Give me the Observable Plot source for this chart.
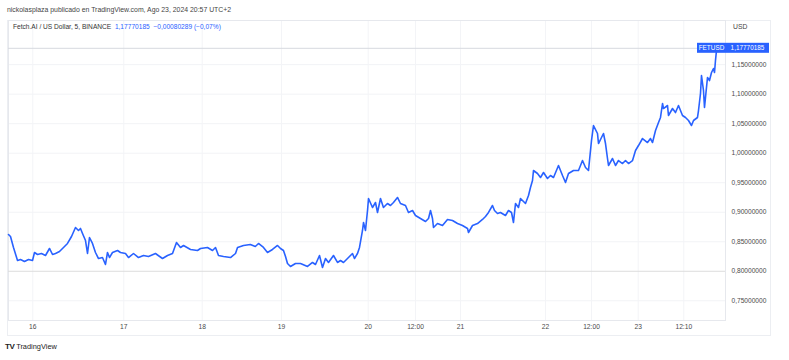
<!DOCTYPE html>
<html><head><meta charset="utf-8">
<script src="https://cdn.jsdelivr.net/npm/d3@7"></script>
<script src="https://cdn.jsdelivr.net/npm/@observablehq/plot@0.6"></script>
<style>
body{margin:0;background:#fff;font-family:"Liberation Sans",Arial,sans-serif;}
#wrap{position:relative;width:789px;height:360px;overflow:hidden;background:#fff}
.abs{position:absolute;white-space:nowrap;line-height:1}
</style></head><body>
<div id="wrap">
<div class="abs" style="left:7px;top:20px;width:764px;height:316px;border:1px solid #eceef2;box-sizing:border-box"></div>
<div id="chart" class="abs" style="left:0;top:0"></div>
<div class="abs" style="left:7px;top:7px;font-size:6.9px;color:#444">nickolasplaza publicado en TradingView.com, Ago 23, 2024 20:57 UTC+2</div>
<div class="abs" style="left:13px;top:23.5px;font-size:6.6px;color:#333">Fetch.AI / US Dollar, 5, BINANCE&nbsp;&nbsp;<span style="color:#2962ff">1,17770185&nbsp;&nbsp;−0,00080289 (−0,07%)</span></div>
<div class="abs" style="left:733px;top:23.5px;font-size:6.8px;color:#444">USD</div>
<div class="abs" style="left:5px;top:343px;font-size:7.4px;color:#222"><b style="font-weight:900;letter-spacing:-0.5px;font-size:8px">TV</b> TradingView</div>
</div>
<script>
// Hours since 2024-08-16 00:00 (local chart time) and FET/USD price
const hours = [-6.41,-5.88,-5.09,-4.03,-3.24,-2.19,-1.13,-0.08,0.45,1.24,2.29,3.35,4.40,5.20,5.99,7.04,8.10,9.15,10.21,11.26,12.05,12.58,13.11,13.90,14.43,14.95,15.74,16.53,17.33,18.38,19.17,19.70,20.23,21.02,22.34,23.13,
24.52,25.44,26.97,28.50,30.03,31.56,33.70,35.85,37.38,38.91,40.13,41.36,42.28,44.42,46.56,47.48,
49.60,51.12,52.03,52.93,54.45,56.57,58.08,58.69,60.50,62.57,64.08,65.04,66.55,67.76,69.27,70.79,71.70,
72.55,73.11,73.66,74.49,75.87,77.26,79.20,80.58,81.41,82.52,83.35,84.18,85.01,86.39,87.50,88.33,89.16,90.27,91.65,92.20,93.04,93.59,94.42,94.70,95.25,95.81,
96.08,97.09,97.85,98.36,99.12,99.87,100.89,101.65,102.41,103.43,104.19,105.46,106.22,107.24,
108.00,109.33,110.67,111.47,112.00,112.53,112.80,113.87,115.20,116.53,117.87,119.20,
120.56,121.98,122.26,123.39,124.80,126.21,127.06,127.91,129.03,129.60,130.45,131.29,132.70,133.55,134.40,134.96,135.53,136.37,136.94,137.50,138.35,139.20,139.76,140.33,140.61,141.74,142.59,143.44,
144.52,145.30,146.09,147.39,148.44,149.22,150.00,151.30,152.61,153.65,154.44,155.22,
156.00,156.51,157.54,157.80,158.57,159.08,159.60,160.11,160.37,161.40,162.17,162.94,163.97,164.74,165.51,166.54,167.31,
168.08,169.15,170.48,171.28,171.82,172.62,173.42,173.95,174.49,174.75,175.82,176.08,177.15,177.95,178.75,179.82,180.62,181.42,182.22,182.76,183.82,184.09,184.62,184.89,185.42,185.69,186.22,186.49,187.02,187.56,188.09,188.36,188.62,188.95];
const prices = [0.8623,0.8589,0.8403,0.8182,0.8199,0.8165,0.8199,0.8182,0.8318,0.8284,0.8301,0.8267,0.8386,0.8284,0.8301,0.8335,0.8403,0.8471,0.8589,0.8742,0.8691,0.8725,0.8640,0.8521,0.8301,0.8572,0.8471,0.8318,0.8216,0.8233,0.8115,0.8318,0.8233,0.8318,0.8352,0.8318,
0.8301,0.8233,0.8301,0.8233,0.8267,0.8250,0.8301,0.8216,0.8267,0.8301,0.8488,0.8403,0.8437,0.8369,0.8352,0.8386,
0.8403,0.8352,0.8403,0.8267,0.8250,0.8233,0.8301,0.8403,0.8437,0.8454,0.8420,0.8471,0.8403,0.8318,0.8369,0.8437,0.8386,
0.8352,0.8250,0.8132,0.8081,0.8132,0.8132,0.8081,0.8149,0.8115,0.8267,0.8064,0.8216,0.8149,0.8267,0.8149,0.8182,0.8149,0.8216,0.8301,0.8216,0.8301,0.8403,0.8691,0.8826,0.8691,0.9029,
0.9233,0.9080,0.9165,0.8996,0.9233,0.9080,0.9148,0.9114,0.9165,0.9250,0.9148,0.9114,0.8996,0.9029,
0.8945,0.8894,0.8843,0.8894,0.9029,0.8894,0.8742,0.8809,0.8775,0.8877,0.8860,0.8809,
0.8775,0.8725,0.8657,0.8775,0.8809,0.8877,0.8928,0.8996,0.9114,0.9029,0.8979,0.8996,0.8945,0.9029,0.8996,0.8826,0.9148,0.9080,0.9233,0.9199,0.9148,0.9284,0.9419,0.9538,0.9707,0.9656,0.9588,0.9673,
0.9571,0.9622,0.9588,0.9792,0.9622,0.9504,0.9656,0.9707,0.9707,0.9876,0.9758,0.9707,
1.0215,1.0469,1.0334,1.0164,1.0266,1.0334,1.0164,0.9910,0.9792,0.9910,0.9792,0.9876,0.9825,0.9876,0.9825,0.9876,1.0046,
1.0130,1.0249,1.0181,1.0249,1.0181,1.0385,1.0520,1.0605,1.0842,1.0757,1.0808,1.0639,1.0757,1.0689,1.0808,1.0639,1.0605,1.0554,1.0469,1.0554,1.0605,1.0723,1.1011,1.1316,1.1062,1.0774,1.1113,1.1282,1.1231,1.1367,1.1435,1.1367,1.1570,1.1777];

const lastPrice = 1.17770185;
const symbol = "FETUSD";
const yTicks = [0.75, 0.80, 0.85, 0.90, 0.95, 1.00, 1.05, 1.10, 1.15];
const xTickHours = [0, 24, 48, 72, 96, 108, 120, 144, 156, 168, 180 + 1/6];
const xTickLabels = ["16", "17", "18", "19", "20", "12:00", "21", "22", "12:00", "23", "12:10"];
const levelLine = 0.80;

// layout: screen positions of the time-axis anchors (TradingView time scale is not uniform)
const xAnchorPx = [32.3, 123.3, 201.7, 281, 367.7, 415, 460, 545, 591, 637.7, 683.3];

const t0 = new Date(2024, 7, 16, 0, 0, 0);
const toDate = h => new Date(t0.getTime() + h * 3600e3);
const data = hours.map((h, i) => ({date: toDate(h), price: prices[i]}));
const xTickDates = xTickHours.map(toDate);
const labelByTime = new Map(xTickDates.map((d, i) => [+d, xTickLabels[i]]));
const fmtY = d => d3.format(".8f")(d).replace(".", ",");

const chart = Plot.plot({
  width: 789, height: 360,
  marginLeft: 8, marginRight: 64, marginTop: 20, marginBottom: 40,
  style: {fontFamily: "'Liberation Sans', Arial, sans-serif", fontSize: "6.7px", color: "#4a4a4a", background: "transparent"},
  x: {type: "time", domain: xTickDates, range: xAnchorPx},
  y: {domain: [0.7166, 1.2248]},
  marks: [
    Plot.gridY(yTicks.filter(d => d !== levelLine), {stroke: "#f2f3f6", strokeOpacity: 1}),
    Plot.gridX(xTickDates, {stroke: "#f3f4f7", strokeOpacity: 1}),
    Plot.frame({stroke: "#e6e8ed"}),
    Plot.ruleY([levelLine], {stroke: "#dcdcdc"}),
    Plot.ruleY([lastPrice], {stroke: "#d6d9df"}),
    Plot.lineY(data, {x: "date", y: "price", stroke: "#2962ff", strokeWidth: 1.6, strokeLinejoin: "round"}),
    Plot.axisY(yTicks, {anchor: "right", tickSize: 0, tickPadding: 6, tickFormat: fmtY, fontSize: 6.6, label: null}),
    Plot.axisX(xTickDates, {anchor: "bottom", tickSize: 0, tickPadding: 4, tickFormat: d => labelByTime.get(+d), fontSize: 6.7, label: null,
      fontWeight: d => labelByTime.get(+d) === "19" ? "bold" : "normal"})
  ]
});
document.getElementById("chart").appendChild(chart);

// price tag on the right scale at the last price
const yPx = chart.scale("y").apply(lastPrice);
const svg = d3.select(chart);
const g = svg.append("g").attr("font-family", "'Liberation Sans', Arial, sans-serif").attr("font-size", 6.4);
g.append("rect").attr("x", 697).attr("y", yPx - 5).attr("width", 29).attr("height", 10).attr("fill", "#2962ff");
g.append("rect").attr("x", 726).attr("y", yPx - 5).attr("width", 43).attr("height", 10).attr("fill", "#2962ff");
g.append("text").attr("x", 711.5).attr("y", yPx).attr("dy", "0.35em").attr("text-anchor", "middle").attr("fill", "#fff").text(symbol);
g.append("text").attr("x", 747.5).attr("y", yPx).attr("dy", "0.35em").attr("text-anchor", "middle").attr("fill", "#fff").text(fmtY(lastPrice));
</script>
</body></html>
